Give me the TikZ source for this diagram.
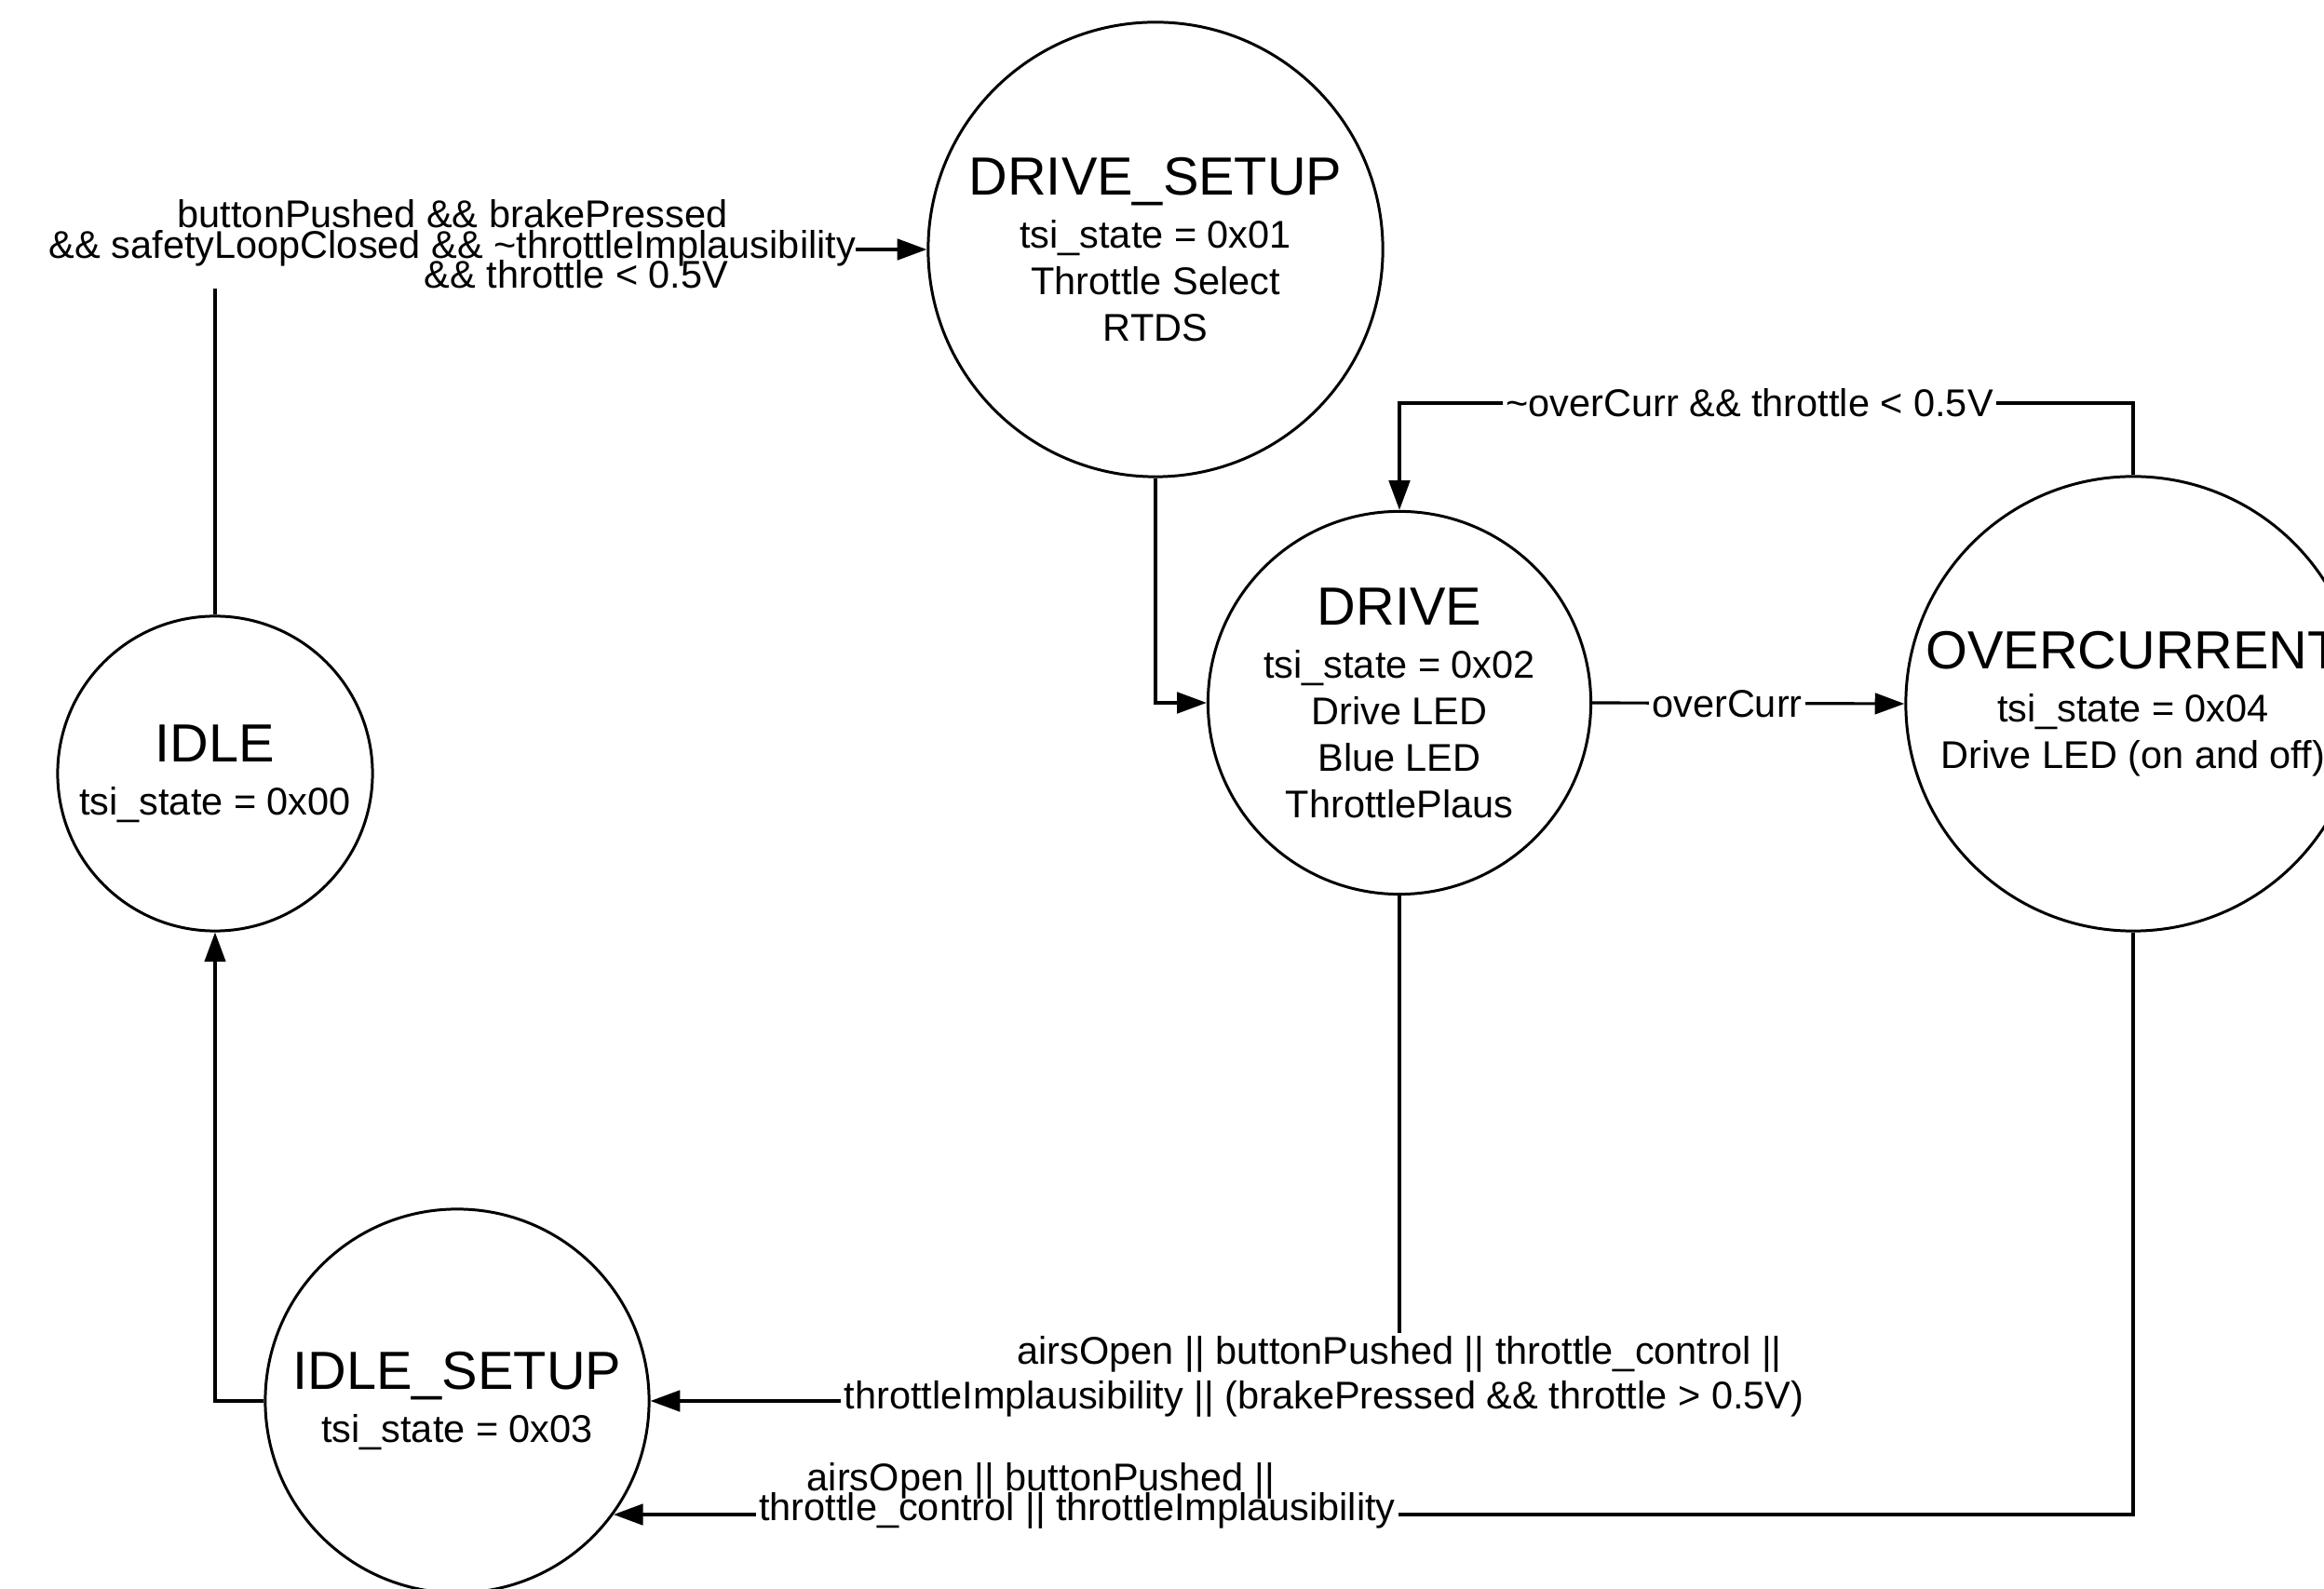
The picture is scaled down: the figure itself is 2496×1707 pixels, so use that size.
\documentclass[tikz,border=0pt]{standalone}
\usepackage{fontspec}
\setmainfont{Liberation Sans}
\usetikzlibrary{arrows.meta}
\newcommand{\ttlfont}{\fontsize{16.4}{18}\selectfont}
\newcommand{\tightlblfont}{\fontsize{11.8}{9.3}\selectfont\setlength{\lineskiplimit}{-20pt}\setlength{\lineskip}{0pt}}
\begin{document}
\begin{tikzpicture}[x=0.01cm, y=-0.01cm,
  state/.style={circle, draw, line width=0.85pt, inner sep=0pt, align=center,
    font=\fontsize{11.8}{14.2}\selectfont},
  conn/.style={line width=0.9pt, -{Triangle[length=9pt,width=6.4pt]}},
  lbltight/.style={fill=white, inner sep=1pt, align=center, font=\tightlblfont},
  lblwide/.style={fill=white, inner sep=1pt, align=center,
    font=\fontsize{11.8}{13.5}\selectfont}]
\useasboundingbox (0,0) rectangle (2496,1707);
\fill[white] (0,0) rectangle (2496,1707);
\clip (0,0) rectangle (2496,1707);

\node[state, minimum size=3.38cm] (idle) at (231,831) {{\ttlfont IDLE}\\[2pt] tsi\_state = 0x00};
\node[state, minimum size=4.88cm] (ds) at (1241,268) {{\ttlfont DRIVE\_SETUP}\\[2pt] tsi\_state = 0x01\\ Throttle Select\\ RTDS};
\node[state, minimum size=4.11cm] (dr) at (1503,755) {{\ttlfont DRIVE}\\[2pt] tsi\_state = 0x02\\ Drive LED\\ Blue LED\\ ThrottlePlaus};
\node[state, minimum size=4.88cm] (oc) at (2291,756) {{\ttlfont OVERCURRENT}\\[2pt] tsi\_state = 0x04\\ Drive LED (on and off)};
\node[state, minimum size=4.12cm] (is) at (491,1505) {{\ttlfont IDLE\_SETUP}\\[2pt] tsi\_state = 0x03};

\draw[conn] (idle.north) |- (ds.west);
\node[lbltight, inner sep=0pt, anchor=base, text depth=-4pt] (l1) at (486,310) {buttonPushed \&\& brakePressed\\ \&\& safetyLoopClosed \&\& \textasciitilde throttleImplausibility\\ \hspace*{2.66cm}\&\& throttle < 0.5V};

\draw[conn] (ds.south) |- (dr.west);

\draw[conn] (dr.east) -- (oc.west);
\node[lbltight] (l3) at (1855,756) {overCurr};

\coordinate (top) at (0,433);
\draw[conn] (oc.north) |- (top -| dr.north) -- (dr.north);
\node[lbltight] (l4) at (1879,433) {\textasciitilde overCurr \&\& throttle < 0.5V};

\draw[conn] (dr.south) |- (is.east);
\node[lblwide] (l5) at (1422,1479) {\hspace*{1.62cm}airsOpen || buttonPushed || throttle\_control ||\\ throttleImplausibility || (brakePressed \&\& throttle > 0.5V)};

\draw[conn] (oc.south) |- (is.-36);
\node[lbltight] (l6) at (1157,1607) {airsOpen || buttonPushed ||\hspace*{0.78cm}\mbox{}\\ throttle\_control || throttleImplausibility};

\draw[conn] (is.west) -| (idle.south);
\end{tikzpicture}
\end{document}
